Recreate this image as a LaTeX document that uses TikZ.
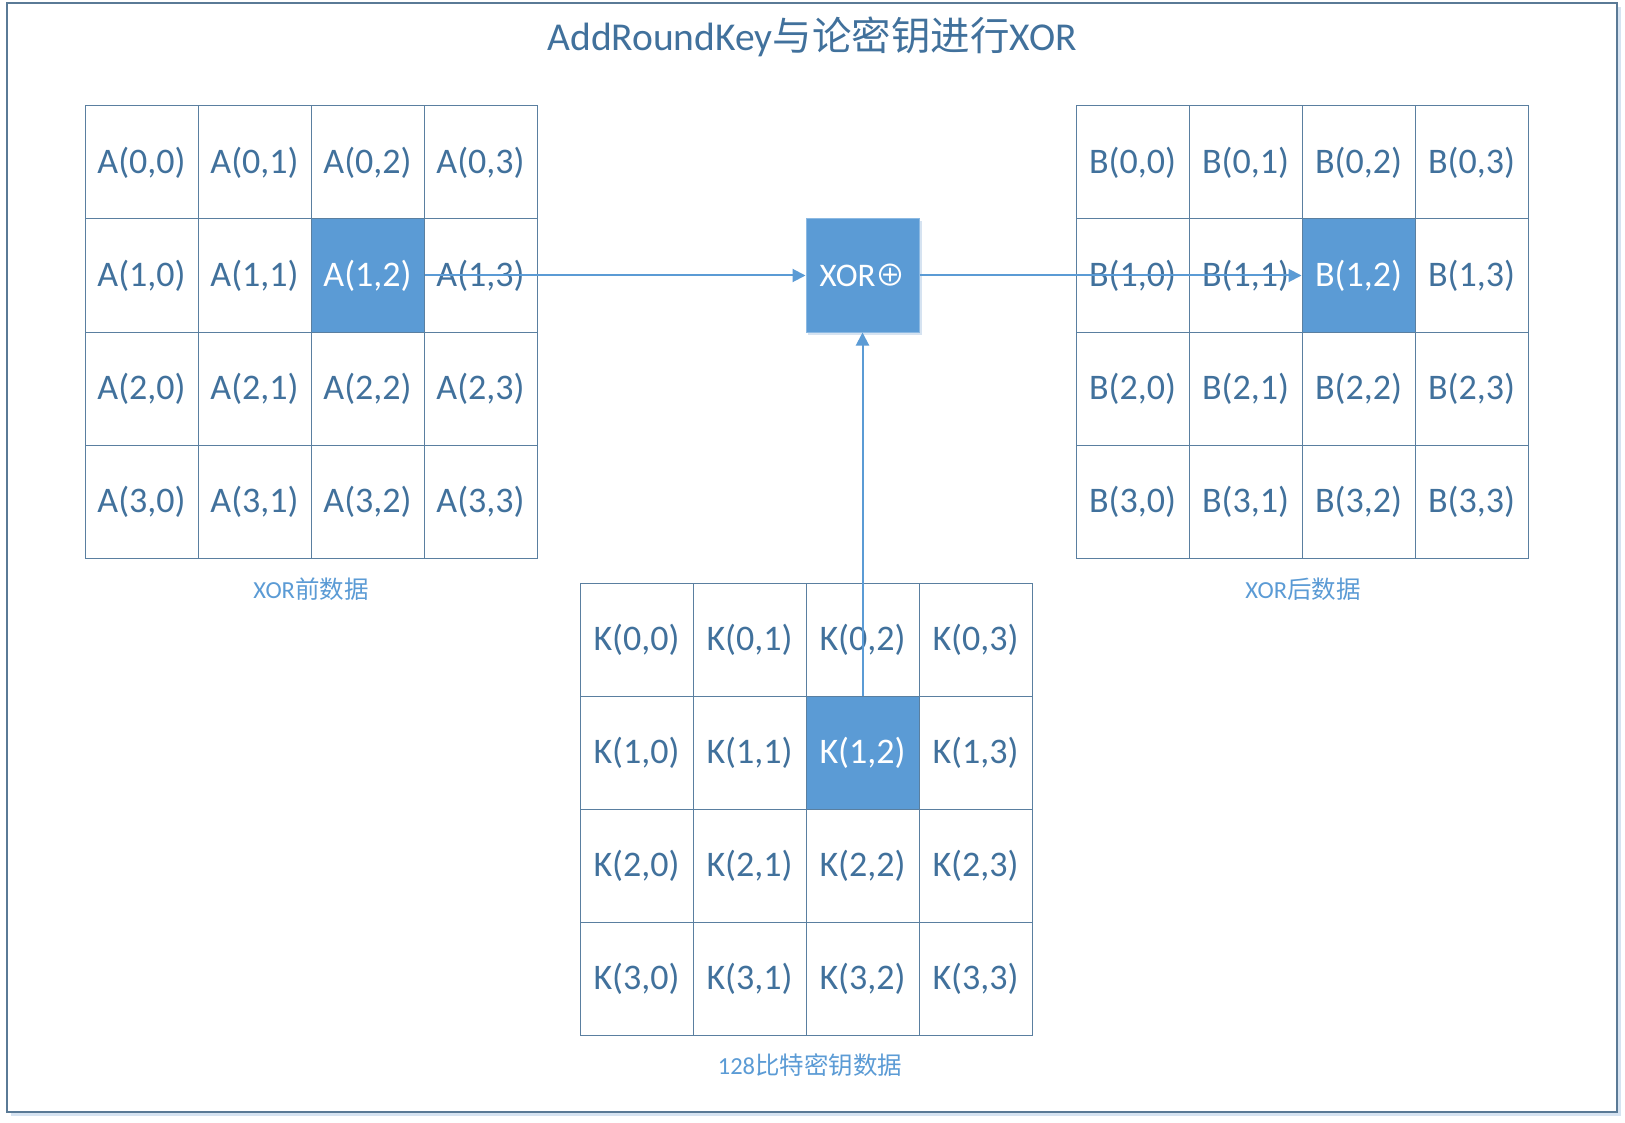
\documentclass[tikz,border=0pt]{standalone}
\usepackage{fontspec}
\setmainfont{Carlito}
\newfontfamily\cjk{Noto Sans CJK SC}
\newfontfamily\symf{DejaVu Sans}
\usetikzlibrary{arrows.meta}
\definecolor{gridc}{HTML}{5A7FA0}
\definecolor{txtc}{HTML}{41719C}
\definecolor{lblc}{HTML}{5B9BD5}
\definecolor{fillc}{HTML}{5B9BD5}
\definecolor{framec}{HTML}{5A7A96}
\definecolor{shadc}{HTML}{D6E3F1}
\begin{document}
\begin{tikzpicture}[x=1pt,y=-1pt,
  cell/.style={draw=gridc, line width=1pt, minimum size=113pt, inner sep=0pt, text=txtc, font=\fontsize{36}{42}\selectfont},
  hot/.style={fill=fillc, text=white},
  lbl/.style={text=lblc, font=\fontsize{24.5}{29}\selectfont},
  conn/.style={draw=lblc, line width=2pt, -{Triangle[length=13pt,width=13pt]}}]
\useasboundingbox (0,0) rectangle (1625,1123);
\fill[white] (0,0) rectangle (1625,1123);
% frame with soft shadow
\fill[shadc] (11,7) rectangle (1621,1116);
\fill[white] (7,3) rectangle (1617,1112);
\draw[framec, line width=2pt] (7,3) rectangle (1617,1112);
% title
\node[text=txtc, font=\fontsize{39.5}{46}\selectfont] (title) at (812,37) {AddRoundKey{\cjk 与论密钥进行}XOR};
% grids
\foreach \r in {0,...,3}{
  \foreach \c in {0,...,3}{
    \ifnum\r=1 \ifnum\c=2 \def\st{hot}\else\def\st{}\fi\else\def\st{}\fi
    \node[cell,\st] (A-\r-\c) at (85+56.5+113*\c, 106+56.5+113*\r) {A(\r,\c)};
    \node[cell,\st] (B-\r-\c) at (1076+56.5+113*\c, 106+56.5+113*\r) {B(\r,\c)};
    \node[cell,\st] (K-\r-\c) at (580+56.5+113*\c, 583+56.5+113*\r) {K(\r,\c)};
  }
}
% XOR box
\fill[shadc] (808,221) rectangle (922,335);
\node[cell, hot, draw=fillc!70!white, font=\fontsize{33}{38}\selectfont] (xor) at (862.5,275.5) {XOR{\cjk\fontsize{30}{34}\selectfont ⊕}};
% connectors
\draw[conn] (A-1-2.east) -- (xor.west);
\draw[conn] (xor.east) -- (B-1-2.west);
\draw[conn] (K-1-2.north) -- (xor.south);
% labels
\node[lbl] (la) at (311,589) {XOR{\cjk 前数据}};
\node[lbl] (lb) at (1303,589) {XOR{\cjk 后数据}};
\node[lbl] (lk) at (810,1065) {128{\cjk 比特密钥数据}};
\end{tikzpicture}
\end{document}
